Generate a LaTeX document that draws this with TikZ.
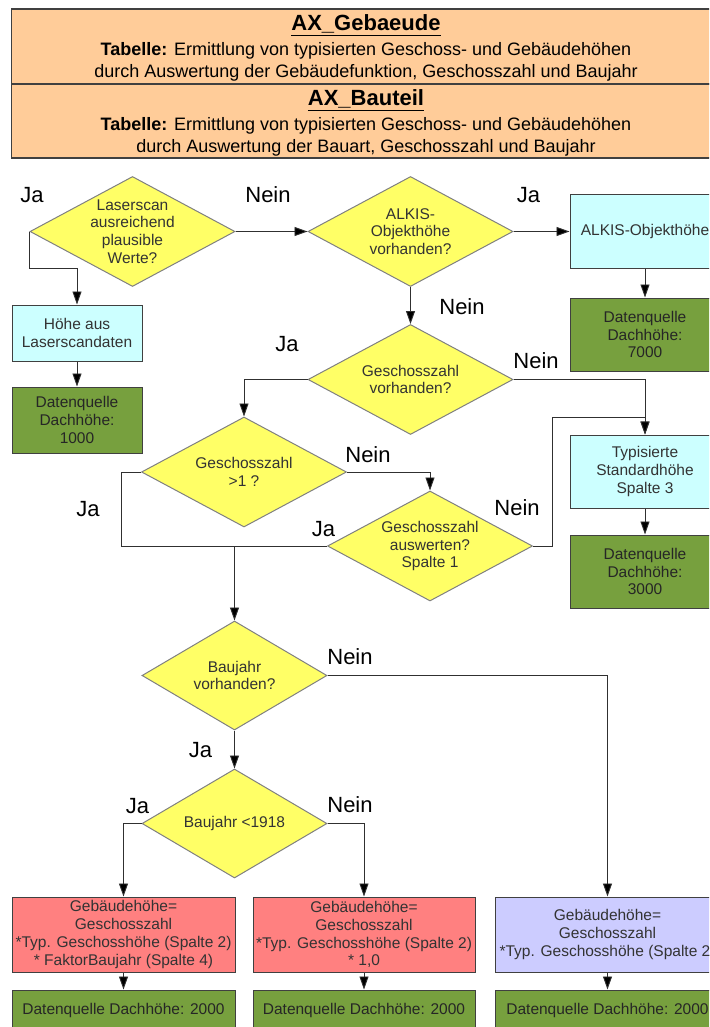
\documentclass[tikz,border=0pt]{standalone}
\usepackage{fontspec}
\setmainfont{Liberation Sans}
\usetikzlibrary{shapes.geometric,arrows.meta}

\definecolor{headfill}{HTML}{FFCC99}
\definecolor{decfill}{HTML}{FFFF66}
\definecolor{decline}{HTML}{808080}
\definecolor{cyanfill}{HTML}{CCFFFF}
\definecolor{greenfill}{HTML}{77A03E}
\definecolor{redfill}{HTML}{FF8080}
\definecolor{lilafill}{HTML}{CCCCFF}
\definecolor{boxline}{HTML}{404040}
\definecolor{flowline}{HTML}{303030}
\definecolor{boxtext}{HTML}{333333}

\newcommand\bxfont{\fontsize{15.5}{17.8}\selectfont}
\newcommand\ansfont{\fontsize{22}{24}\selectfont}
\newcommand\hdfont{\fontsize{18}{22}\selectfont}
\newcommand\ttlfont{\fontsize{22}{24}\selectfont\bfseries}

\tikzset{
  headbox/.style={rectangle, draw=boxline, line width=1.2pt, fill=headfill,
    inner sep=0pt, minimum width=710.5pt},
  headline/.style={inner sep=0pt, anchor=base, font=\hdfont},
  headtitle/.style={inner sep=0pt, anchor=base, font=\ttlfont},
  decision/.style={diamond, draw=decline, line width=1pt, fill=decfill,
    inner sep=0pt, minimum width=205pt, minimum height=110pt},
  smalldecision/.style={decision, minimum width=185pt, minimum height=109pt},
  dtext/.style={align=center, font=\bxfont, text=boxtext, inner sep=0pt},
  procbox/.style={rectangle, draw=boxline, line width=1pt, inner sep=0pt,
    align=center, font=\bxfont, text=boxtext},
  cyanbox/.style={procbox, fill=cyanfill},
  greenbox/.style={procbox, fill=greenfill, text=black!85},
  redbox/.style={procbox, fill=redfill},
  lilabox/.style={procbox, fill=lilafill},
  flow/.style={draw=flowline, line width=0.9pt,
    -{Triangle[length=13pt,width=9pt,fill=black]}},
  plainflow/.style={draw=flowline, line width=0.9pt},
  answer/.style={font=\ansfont, inner sep=0pt},
}

\begin{document}
\begin{tikzpicture}[x=1pt,y=-1pt]
  \clip (0,0) rectangle (709,1027);
  \fill[white] (0,0) rectangle (709,1027);

  % header with the two tables
  \node[headbox, minimum height=75pt] (h1) at (366.75,46.5) {};
  \node[headbox, minimum height=74pt] (h2) at (366.75,121) {};
  \node[headtitle] (t1) at (366,31) {\underline{AX\_Gebaeude}};
  \node[headline] (t1a) at (366,56) {\textbf{Tabelle:} Ermittlung von typisierten Geschoss- und Gebäudehöhen};
  \node[headline] (t1b) at (366,78) {durch Auswertung der Gebäudefunktion, Geschosszahl und Baujahr};
  \node[headtitle] (t2) at (366,106) {\underline{AX\_Bauteil}};
  \node[headline] (t2a) at (366,131) {\textbf{Tabelle:} Ermittlung von typisierten Geschoss- und Gebäudehöhen};
  \node[headline] (t2b) at (366,152.5) {durch Auswertung der Bauart, Geschosszahl und Baujahr};

  % decisions
  \node[decision] (d1) at (132.5,231.5) {};
  \node[dtext] at (d1) {Laserscan\\ausreichend\\plausible\\Werte?};
  \node[decision] (d2) at (410.5,231.5) {};
  \node[dtext] at (d2) {ALKIS-\\Objekthöhe\\vorhanden?};
  \node[decision] (d3) at (410.5,379.5) {};
  \node[dtext] at (d3) {Geschosszahl\\vorhanden?};
  \node[decision] (d4) at (244,472) {};
  \node[dtext] at (d4) {Geschosszahl\\>1 ?};
  \node[decision] (d5) at (430,546) {};
  \node[dtext] at (d5) {Geschosszahl\\auswerten?\\Spalte 1};
  \node[smalldecision] (d6) at (234.5,675.5) {};
  \node[dtext] at (d6) {Baujahr\\vorhanden?};
  \node[smalldecision] (d7) at (234.5,823.5) {};
  \node[dtext] at (d7) {Baujahr <1918};

  % process and result boxes
  \node[cyanbox, minimum width=130pt, minimum height=56pt] (b1) at (77,333) {Höhe aus\\Laserscandaten};
  \node[greenbox, minimum width=130pt, minimum height=66pt] (g1) at (77,420) {Datenquelle\\Dachhöhe:\\1000};
  \node[cyanbox, minimum width=150pt, minimum height=74pt] (b2) at (645,231.5) {ALKIS-Objekthöhe};
  \node[greenbox, minimum width=150pt, minimum height=73pt] (g2) at (645,334.5) {Datenquelle\\Dachhöhe:\\7000};
  \node[cyanbox, minimum width=150pt, minimum height=73pt] (b3) at (645,471.5) {Typisierte\\Standardhöhe\\Spalte 3};
  \node[greenbox, minimum width=150pt, minimum height=73pt] (g3) at (645,571.5) {Datenquelle\\Dachhöhe:\\3000};

  \node[redbox, minimum width=223pt, minimum height=75pt] (r1) at (123.5,934.5)
    {Gebäudehöhe=\\Geschosszahl\\*Typ. Geschosshöhe (Spalte 2)\\* FaktorBaujahr (Spalte 4)};
  \node[greenbox, minimum width=223pt, minimum height=40pt] (g4) at (123.5,1010) {Datenquelle Dachhöhe: 2000};
  \node[redbox, minimum width=222pt, minimum height=75pt] (r2) at (364,934.5)
    {Gebäudehöhe=\\Geschosszahl\\*Typ. Geschosshöhe (Spalte 2)\\* 1,0};
  \node[greenbox, minimum width=222pt, minimum height=40pt] (g5) at (364,1010) {Datenquelle Dachhöhe: 2000};
  \node[lilabox, minimum width=225pt, minimum height=75pt] (p1) at (607.5,934.5)
    {Gebäudehöhe=\\Geschosszahl\\*Typ. Geschosshöhe (Spalte 2)};
  \node[greenbox, minimum width=225pt, minimum height=40pt] (g6) at (607.5,1010) {Datenquelle Dachhöhe: 2000};

  % junction where both "Ja" branches meet
  \coordinate (j1) at (d6.north |- d5.west);

  % connectors
  \draw[flow] (d1.east) -- (d2.west);
  \draw[flow] (d1.west) -- ++(0,36.5) -| (b1.north);
  \draw[flow] (b1.south) -- (g1.north);
  \draw[flow] (d2.east) -- (b2.west);
  \draw[flow] (b2.south) -- (g2.north);
  \draw[flow] (d2.south) -- (d3.north);
  \draw[flow] (d3.east) -| (b3.north);
  \draw[flow] (b3.south) -- (g3.north);
  \draw[flow] (d3.west) -| (d4.north);
  \draw[flow] (d4.east) -| (d5.north);
  \draw[plainflow] (d4.west) -- ++(-19.5,0) |- (j1);
  \draw[plainflow] (d5.west) -- (j1);
  \draw[flow] (j1) -- (d6.north);
  \draw[flow] (d5.east) -- ++(19,0) -- ++(0,-129) -| (b3.north);
  \draw[flow] (d6.east) -| (p1.north);
  \draw[flow] (d6.south) -- (d7.north);
  \draw[flow] (d7.west) -| (r1.north);
  \draw[flow] (d7.east) -| (r2.north);
  \draw[flow] (r1.south) -- (g4.north);
  \draw[flow] (r2.south) -- (g5.north);
  \draw[flow] (p1.south) -- (g6.north);

  % branch labels
  \node[answer] (a1) at (32,195) {Ja};
  \node[answer] (a2) at (268,195) {Nein};
  \node[answer] (a3) at (528.5,195.5) {Ja};
  \node[answer] (a4) at (462,307) {Nein};
  \node[answer] (a5) at (287,344) {Ja};
  \node[answer] (a6) at (536,361) {Nein};
  \node[answer] (a7) at (368,455) {Nein};
  \node[answer] (a8) at (88,509.5) {Ja};
  \node[answer] (a9) at (323.5,529) {Ja};
  \node[answer] (a10) at (517,508) {Nein};
  \node[answer] (a11) at (350,657) {Nein};
  \node[answer] (a12) at (200.5,750) {Ja};
  \node[answer] (a13) at (137.5,806) {Ja};
  \node[answer] (a14) at (350,805) {Nein};
\end{tikzpicture}
\end{document}
